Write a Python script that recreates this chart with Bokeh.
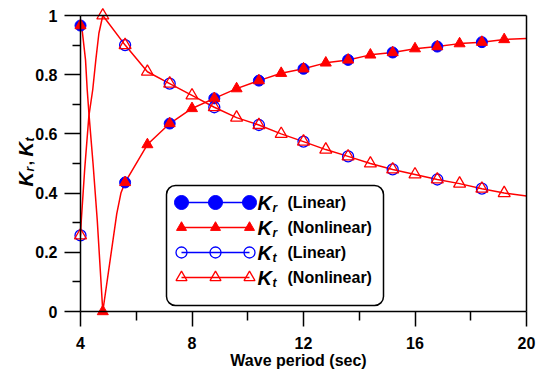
import math
from bokeh.plotting import figure
from bokeh.models import Range1d, FixedTicker, Label, BoxAnnotation, LinearAxis
from bokeh.embed import file_html
from bokeh.resources import INLINE

# ---------------- data ----------------
# Nonlinear model: markers every 0.8 s
nl_x = [4.0, 4.8, 5.6, 6.4, 7.2, 8.0, 8.8, 9.6, 10.4, 11.2, 12.0, 12.8,
        13.6, 14.4, 15.2, 16.0, 16.8, 17.6, 18.4, 19.2]
kr_nl = [0.966, 0.0, 0.436, 0.564, 0.635, 0.686, 0.72, 0.753, 0.78, 0.805,
         0.82, 0.84, 0.85, 0.867, 0.875, 0.888, 0.895, 0.905, 0.91, 0.919]
kt_nl = [0.257, 1.0, 0.90, 0.81, 0.77, 0.73, 0.69, 0.655, 0.63, 0.60,
         0.574, 0.547, 0.524, 0.50, 0.48, 0.463, 0.446, 0.432, 0.415, 0.40]

# Linear model: markers every 1.6 s
lin_x = [4.0, 5.6, 7.2, 8.8, 10.4, 12.0, 13.6, 15.2, 16.8, 18.4]
kr_lin = [0.966, 0.436, 0.635, 0.72, 0.78, 0.82, 0.85, 0.875, 0.895, 0.91]
kt_lin = [0.257, 0.90, 0.77, 0.69, 0.63, 0.574, 0.524, 0.48, 0.446, 0.415]

# Curve shape near the resonance dip and line ends
kr_dip_x = [4.0, 4.06, 4.18, 4.24, 4.31, 4.45, 4.6, 4.8, 5.3, 5.45]
kr_dip_y = [0.966, 0.95, 0.85, 0.75, 0.66, 0.5, 0.31, 0.0, 0.33, 0.40]
kt_dip_x = [4.0, 4.03, 4.15, 4.3, 4.44, 4.55, 4.66, 4.8]
kt_dip_y = [0.257, 0.31, 0.48, 0.66, 0.75, 0.85, 0.94, 1.0]
end_x = 20.0
kr_end = 0.922
kt_end = 0.39

kr_path_x = kr_dip_x + nl_x[2:] + [end_x]
kr_path_y = kr_dip_y + kr_nl[2:] + [kr_end]
kt_path_x = kt_dip_x + nl_x[2:] + [end_x]
kt_path_y = kt_dip_y + kt_nl[2:] + [kt_end]

x_lo, x_hi = 4, 20
y_lo, y_hi = 0, 1
x_ticks = [4, 8, 12, 16, 20]
x_tick_labels = ["4", "8", "12", "16", "20"]
x_minor = [6, 10, 14, 18]
y_ticks = [0, 0.2, 0.4, 0.6, 0.8, 1.0]
y_tick_labels = ["0", "0.2", "0.4", "0.6", "0.8", "1"]
y_minor = [0.1, 0.3, 0.5, 0.7, 0.9]

legend_subs = ["r", "r", "t", "t"]
legend_texts = ["(Linear)", "(Nonlinear)", "(Linear)", "(Nonlinear)"]
x_title = "Wave period (sec)"

FONT = "Liberation Sans"
BLUE = "#0000FF"
RED = "#FF0000"

# ---------------- layout (pixels) ----------------
W, H = 538, 370
FL, FR, FT, FB = 80, 526, 15, 311          # plot box edges in canvas pixels
sx = (FR - FL) / (x_hi - x_lo)
sy = (FB - FT) / (y_hi - y_lo)
xr = Range1d(x_lo - FL / sx, x_hi + (W - FR) / sx)
yr = Range1d(y_lo - (H - FB) / sy, y_hi + FT / sy)

p = figure(width=W, height=H, x_range=xr, y_range=yr,
           output_backend="svg", toolbar_location=None, min_border=0,
           x_axis_type=None, y_axis_type=None)
p.title.visible = False
p.grid.visible = False
p.outline_line_color = None
p.background_fill_color = "white"
p.border_fill_color = "white"

p.extra_x_ranges = {"px": Range1d(0, W)}
p.extra_y_ranges = {"px": Range1d(H, 0)}


def style_axis(ax):
    ax.axis_line_width = 1.5
    ax.axis_line_color = "black"
    ax.major_tick_line_width = 1.5
    ax.minor_tick_line_width = 1.5
    ax.major_tick_line_color = "black"
    ax.minor_tick_line_color = "black"
    ax.major_tick_in = 0
    ax.minor_tick_in = 0
    ax.major_label_text_font = FONT
    ax.major_label_text_font_style = "bold"
    ax.major_label_text_font_size = "16px"
    ax.major_label_text_color = "black"


xa = LinearAxis(fixed_location=y_lo, bounds=(x_lo, x_hi),
                ticker=FixedTicker(ticks=x_ticks, minor_ticks=x_minor),
                major_label_overrides={t: l for t, l in zip(x_ticks, x_tick_labels)})
style_axis(xa)
xa.major_tick_out = 15
xa.minor_tick_out = 9
xa.major_label_standoff = 10
p.add_layout(xa, "below")

ya = LinearAxis(fixed_location=x_lo, bounds=(y_lo, y_hi),
                ticker=FixedTicker(ticks=y_ticks, minor_ticks=y_minor),
                major_label_overrides={t: l for t, l in zip(y_ticks, y_tick_labels)})
style_axis(ya)
ya.major_tick_out = 16
ya.minor_tick_out = 8
ya.major_label_standoff = 7
p.add_layout(ya, "left")

# top and right box lines
for loc, side, bnd in ((y_hi, "above", (x_lo, x_hi)), (x_hi, "right", (y_lo, y_hi))):
    bx = LinearAxis(fixed_location=loc, bounds=bnd, ticker=FixedTicker(ticks=[]),
                    axis_line_width=1.5, axis_line_color="black",
                    major_tick_out=0, minor_tick_out=0,
                    major_label_text_font_size="0px")
    p.add_layout(bx, side)

# ---------------- data glyphs ----------------
p.line(kr_path_x, kr_path_y, line_color=RED, line_width=1.5)
p.line(kt_path_x, kt_path_y, line_color=RED, line_width=1.5)

p.scatter(lin_x, kr_lin, marker="circle", size=11, fill_color=BLUE, line_color=BLUE)
p.scatter(nl_x, kr_nl, marker="triangle", size=11, fill_color=RED, line_color=RED)
p.scatter(lin_x, kt_lin, marker="circle", size=11, fill_color=None, line_color=BLUE, line_width=1.3)
p.scatter(nl_x, kt_nl, marker="triangle", size=12, fill_color=None, line_color=RED, line_width=1.3)

# ---------------- legend ----------------
box = BoxAnnotation(left=166, right=383, top=185, bottom=305,
                    x_range_name="px", y_range_name="px",
                    fill_color="white", fill_alpha=1.0,
                    line_color="black", line_alpha=1.0, line_width=1.5,
                    border_radius=9, level="underlay")
p.add_layout(box)

rows_y = [202, 227, 252, 277]
mk_x = [181, 215, 249]
styles = [
    dict(marker="circle", size=14, fill_color=BLUE, line_color=BLUE, line_width=1),
    dict(marker="triangle", size=10, fill_color=RED, line_color=RED, line_width=1),
    dict(marker="circle", size=11, fill_color=None, line_color=BLUE, line_width=1.3),
    dict(marker="triangle", size=11, fill_color=None, line_color=RED, line_width=1.3),
]
line_cols = [BLUE, RED, BLUE, RED]
for ry, st, lc, sub, txt in zip(rows_y, styles, line_cols, legend_subs, legend_texts):
    p.line([mk_x[0], mk_x[-1]], [ry, ry], x_range_name="px", y_range_name="px",
           line_color=lc, line_width=1.5)
    p.scatter(mk_x, [ry] * len(mk_x), x_range_name="px", y_range_name="px", **st)
    p.add_layout(Label(x=257, y=ry, text="K", x_range_name="px", y_range_name="px",
                       text_font=FONT, text_font_style="bold italic", text_font_size="20px",
                       text_baseline="middle", text_align="left", text_color="black"))
    p.add_layout(Label(x=272, y=ry + 5, text=sub, x_range_name="px", y_range_name="px",
                       text_font=FONT, text_font_style="bold italic", text_font_size="12px",
                       text_baseline="middle", text_align="left", text_color="black"))
    p.add_layout(Label(x=287, y=ry, text=txt, x_range_name="px", y_range_name="px",
                       text_font=FONT, text_font_style="bold", text_font_size="16px",
                       text_baseline="middle", text_align="left", text_color="black"))

# ---------------- axis titles ----------------
p.add_layout(Label(x=298, y=360, text=x_title, x_range_name="px", y_range_name="px",
                   text_font=FONT, text_font_style="bold", text_font_size="16px",
                   text_baseline="middle", text_align="center", text_color="black"))

ang = math.pi / 2
ytitle_parts = [
    (25, 186, "K", "20px", "bold italic"),
    (29, 171, "r", "12px", "bold italic"),
    (25, 165, ",", "17px", "bold"),
    (25, 156, "K", "20px", "bold italic"),
    (29, 141, "t", "12px", "bold italic"),
]
for xx, yy, t, fs, sty in ytitle_parts:
    p.add_layout(Label(x=xx, y=yy, text=t, angle=ang, x_range_name="px", y_range_name="px",
                       text_font=FONT, text_font_style=sty, text_font_size=fs,
                       text_baseline="alphabetic", text_align="left", text_color="black"))

open("out.html", "w").write(file_html(p, INLINE))
